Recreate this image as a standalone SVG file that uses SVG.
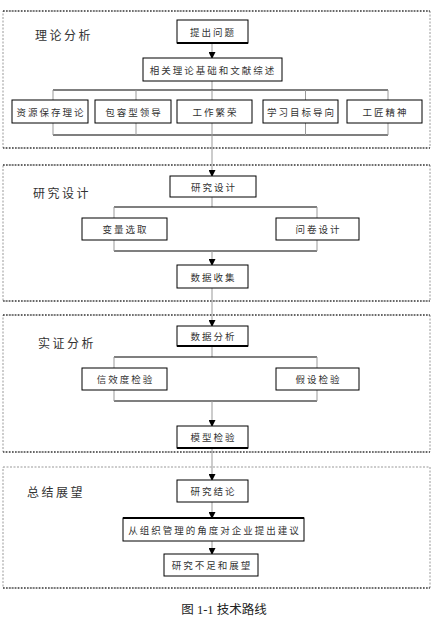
<svg xmlns="http://www.w3.org/2000/svg" width="438" height="620" viewBox="0 0 438 620">
<defs>
<marker id="arr" markerUnits="userSpaceOnUse" markerWidth="7" markerHeight="7" refX="6" refY="3.5" orient="auto">
<path d="M0,0 L7,3.5 L0,7 z" fill="#000"/>
</marker>
</defs>
<style>
.frame{fill:none;stroke:#999;stroke-width:1;stroke-dasharray:2,1.5}
.edge{fill:none;stroke:#000;stroke-width:1.2;stroke-dasharray:1.5,1.5}
.box{fill:#fff;stroke:#000;stroke-width:1}
.thick{stroke:#000;stroke-width:2.2}
.t{font-family:"Noto Sans CJK SC","Noto Sans",sans-serif;font-size:9.5px;letter-spacing:2px;fill:#333;text-anchor:middle;dominant-baseline:central}
.lab{font-family:"Noto Sans CJK SC","Noto Sans",sans-serif;font-size:12px;letter-spacing:2.5px;fill:#333;dominant-baseline:central}
.bus{stroke:#000;stroke-width:1.2;fill:none}
.v{stroke:#999;stroke-width:1;fill:none}
.cap{font-family:"Liberation Serif","Noto Sans CJK SC",serif;font-size:12.5px;fill:#222;text-anchor:middle;dominant-baseline:central}
</style>

<g id="sections">
<rect class="frame" x="3" y="11" width="427" height="137"/>
<line class="edge" x1="3" y1="11" x2="430" y2="11"/>
<line class="edge" x1="3" y1="148" x2="430" y2="148"/>
<text class="lab" x="35" y="34">理论分析</text>
<rect class="frame" x="3" y="165" width="427" height="136"/>
<line class="edge" x1="3" y1="165" x2="430" y2="165"/>
<line class="edge" x1="3" y1="301" x2="430" y2="301"/>
<text class="lab" x="33" y="192">研究设计</text>
<rect class="frame" x="3" y="315" width="427" height="137"/>
<line class="edge" x1="3" y1="315" x2="430" y2="315"/>
<line class="edge" x1="3" y1="452" x2="430" y2="452"/>
<text class="lab" x="38" y="342">实证分析</text>
<rect class="frame" x="3" y="467" width="427" height="121"/>
<line class="edge" x1="3" y1="588" x2="430" y2="588"/>
<text class="lab" x="27" y="491">总结展望</text>
</g>

<g id="connectors">
<line class="v" x1="212" y1="43" x2="212" y2="58" marker-end="url(#arr)"/>
<line class="v" x1="212" y1="81" x2="212" y2="90"/>
<line class="bus" x1="53" y1="90" x2="388" y2="90"/>
<line class="bus" x1="53" y1="135" x2="388" y2="135"/>
<line class="v" x1="53" y1="90" x2="53" y2="135"/>
<line class="v" x1="136" y1="90" x2="136" y2="135"/>
<line class="v" x1="212" y1="90" x2="212" y2="135"/>
<line class="v" x1="305.5" y1="90" x2="305.5" y2="135"/>
<line class="v" x1="388" y1="90" x2="388" y2="135"/>
<line class="v" x1="212" y1="135" x2="212" y2="176" marker-end="url(#arr)"/>
<line class="v" x1="212" y1="197" x2="212" y2="207"/>
<line class="bus" x1="114" y1="207" x2="317" y2="207"/>
<line class="bus" x1="114" y1="251" x2="317" y2="251"/>
<line class="v" x1="114" y1="207" x2="114" y2="251"/>
<line class="v" x1="317" y1="207" x2="317" y2="251"/>
<line class="v" x1="212" y1="251" x2="212" y2="265" marker-end="url(#arr)"/>
<line class="v" x1="212" y1="288" x2="212" y2="326" marker-end="url(#arr)"/>
<line class="v" x1="212" y1="346" x2="212" y2="357"/>
<line class="bus" x1="114" y1="357" x2="317" y2="357"/>
<line class="bus" x1="114" y1="401" x2="317" y2="401"/>
<line class="v" x1="114" y1="357" x2="114" y2="401"/>
<line class="v" x1="317" y1="357" x2="317" y2="401"/>
<line class="v" x1="212" y1="401" x2="212" y2="426" marker-end="url(#arr)"/>
<line class="v" x1="212" y1="448" x2="212" y2="480" marker-end="url(#arr)"/>
<line class="v" x1="212" y1="502" x2="212" y2="518" marker-end="url(#arr)"/>
<line class="v" x1="212" y1="541" x2="212" y2="554" marker-end="url(#arr)"/>
</g>

<g id="n-tichu"><rect class="box" x="177" y="20" width="71" height="23"/><line class="thick" x1="177" y1="43" x2="248" y2="43"/><text class="t" x="213" y="31.5">提出问题</text></g>
<g id="n-xiangguan"><rect class="box" x="143" y="58" width="139" height="23"/><text class="t" x="213" y="69.5">相关理论基础和文献综述</text></g>
<g id="n-ziyuan"><rect class="box" x="12" y="100" width="76" height="23"/><text class="t" x="51" y="111.5">资源保存理论</text></g>
<g id="n-baorong"><rect class="box" x="95" y="100" width="76" height="23"/><text class="t" x="134" y="111.5">包容型领导</text></g>
<g id="n-gongzuo"><rect class="box" x="177" y="100" width="75" height="23"/><text class="t" x="215.5" y="111.5">工作繁荣</text></g>
<g id="n-xuexi"><rect class="box" x="263" y="100" width="75" height="23"/><text class="t" x="301.5" y="111.5">学习目标导向</text></g>
<g id="n-gongjiang"><rect class="box" x="347" y="100" width="75" height="23"/><text class="t" x="385.5" y="111.5">工匠精神</text></g>

<g id="n-yanjiusheji"><rect class="box" x="170" y="176" width="86" height="21"/><text class="t" x="214" y="186.5">研究设计</text></g>
<g id="n-bianliang"><rect class="box" x="82" y="218" width="85" height="22"/><text class="t" x="125.5" y="229">变量选取</text></g>
<g id="n-wenjuan"><rect class="box" x="276" y="218" width="83" height="22"/><text class="t" x="318.5" y="229">问卷设计</text></g>
<g id="n-shujushouji"><rect class="box" x="177" y="265" width="71" height="23"/><text class="t" x="213.5" y="276.5">数据收集</text></g>

<g id="n-shujufenxi"><rect class="box" x="177" y="326" width="71" height="20"/><line class="thick" x1="177" y1="346" x2="248" y2="346"/><text class="t" x="213.5" y="336">数据分析</text></g>
<g id="n-xinxiaodu"><rect class="box" x="82" y="368" width="85" height="22"/><text class="t" x="125.5" y="379">信效度检验</text></g>
<g id="n-jiashe"><rect class="box" x="276" y="368" width="83" height="22"/><text class="t" x="318.5" y="379">假设检验</text></g>
<g id="n-moxing"><rect class="box" x="177" y="426" width="71" height="22"/><line class="thick" x1="177" y1="448" x2="248" y2="448"/><text class="t" x="213.5" y="437">模型检验</text></g>

<g id="n-jielun"><rect class="box" x="177" y="480" width="71" height="22"/><text class="t" x="213.5" y="491">研究结论</text></g>
<g id="n-jianyi"><rect class="box" x="123" y="518" width="181" height="23"/><line class="thick" x1="123" y1="518" x2="304" y2="518"/><text class="t" x="214.5" y="529.5">从组织管理的角度对企业提出建议</text></g>
<g id="n-buzu"><rect class="box" x="164" y="554" width="94" height="22"/><text class="t" x="212" y="565">研究不足和展望</text></g>

<text class="cap" x="224" y="610">图 1-1  技术路线</text>
</svg>
